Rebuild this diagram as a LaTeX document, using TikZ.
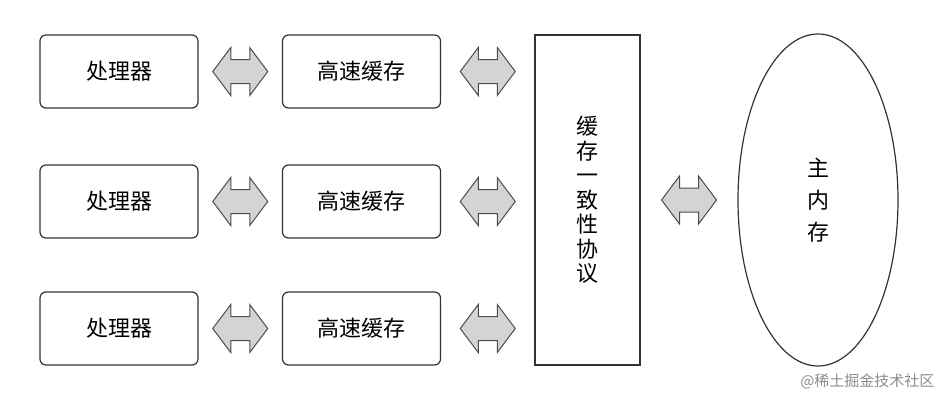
\documentclass[tikz,border=0pt]{standalone}
\usepackage{fontspec}
\setmainfont{Noto Sans CJK SC}
\usetikzlibrary{calc,shapes.geometric}
\tikzset{
 box/.style={draw=black!80,line width=1.2pt,rounded corners=6pt,minimum width=158pt,minimum height=73pt,font=\fontsize{22}{24}\selectfont,inner sep=0pt},
 dbl/.style={draw=black!70,line width=1pt,fill=black!17,line join=miter},
}
\newcommand\darr[1]{%
 \draw[dbl] ($(#1)+(-27.5,0)$) -- ++(18,-24) -- ++(0,12) -- ++(19,0) -- ++(0,-12) -- ++(18,24) -- ++(-18,24) -- ++(0,-12) -- ++(-19,0) -- ++(0,12) -- cycle;}
\begin{document}
\begin{tikzpicture}[x=1pt,y=-1pt]
\useasboundingbox (0,0) rectangle (951,405);
\foreach \r/\y in {1/71.5,2/201.5,3/328.5}{
 \node[box] (p\r) at (119,\y) {处理器};
 \node[box] (c\r) at (361.5,\y) {高速缓存};
 \coordinate (m\r) at ($(p\r.east)!0.5!(c\r.west)$);
 \darr{m\r}
}
\node[draw=black!80,line width=1.2pt,minimum width=105pt,minimum height=330pt,inner sep=0pt,
 font=\fontsize{22}{24.5}\selectfont,align=center] (k) at (587.5,200) {缓\\存\\一\\致\\性\\协\\议};
\foreach \r in {1,2,3}{ \coordinate (q\r) at ($(c\r.east)!0.5!(k.west |- c\r.east)$); \darr{q\r} }
\node[draw=black!80,line width=1.2pt,ellipse,minimum width=160pt,minimum height=332pt,inner sep=0pt,
 font=\fontsize{22}{32}\selectfont,align=center] (mm) at (818,200) {主\\内\\存};
\coordinate (r) at ($(k.east)!0.5!(mm.west)$);
\darr{r}
\node[text=black!45,font=\fontsize{15}{16}\selectfont,anchor=east] (wm) at (938,381) {@稀土掘金技术社区};
\end{tikzpicture}
\end{document}
